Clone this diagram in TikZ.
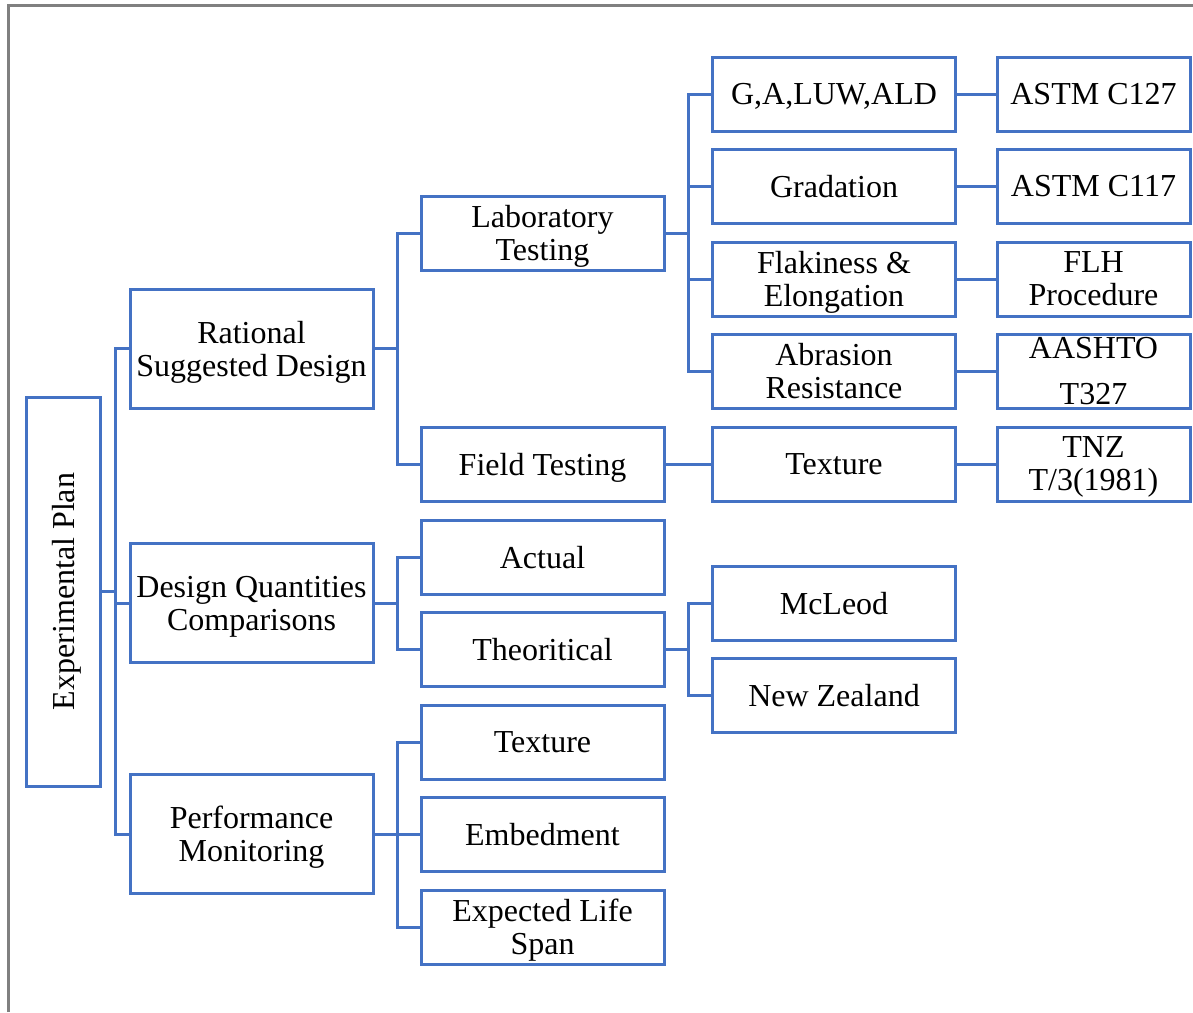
\documentclass[tikz,border=0pt]{standalone}
\usepackage{fontspec}
\setmainfont{Liberation Serif}
\definecolor{boxblue}{HTML}{4472C4}
\definecolor{framegray}{HTML}{808080}
\begin{document}
\begin{tikzpicture}[x=0.5pt,y=-0.5pt,
  box/.style={draw=boxblue,line width=1.5pt,inner sep=0pt,align=center,
    font=\fontsize{16}{16.5}\selectfont,text=black,text depth=0pt},
  lone/.style={box,minimum width=121.5pt,minimum height=59.5pt},
  ltwo/.style={box,minimum width=121.5pt,minimum height=37pt},
  lfour/.style={box,minimum width=96.5pt,minimum height=37pt},
  conn/.style={draw=boxblue,line width=1.5pt}]
\useasboundingbox (0,0) rectangle (1193,1012);
\draw[framegray,line width=1.5pt] (8,1012) -- (8,5) -- (1193,5);
% root
\node[box,minimum width=194.5pt,minimum height=37pt,rotate=90] (ep) at (63,591.5) {Experimental Plan};
% level 1
\node[lone] (rsd) at (251.5,348.5) {Rational\\Suggested Design};
\node[lone] (dqc) at (251.5,603) {Design Quantities\\Comparisons};
\node[lone] (pm) at (251.5,834) {Performance\\Monitoring};
% level 2
\node[ltwo] (lab) at (542.5,233) {Laboratory\\Testing};
\node[ltwo] (fld) at (542.5,464) {Field Testing};
\node[ltwo] (act) at (542.5,557) {Actual};
\node[ltwo] (the) at (542.5,649) {Theoritical};
\node[ltwo] (tex) at (542.5,742) {Texture};
\node[ltwo] (emb) at (542.5,834) {Embedment};
\node[ltwo] (els) at (542.5,927) {Expected Life\\Span};
% level 3
\node[ltwo] (gal) at (834,94) {G,A,LUW,ALD};
\node[ltwo] (gra) at (834,186) {Gradation};
\node[ltwo] (fla) at (834,279) {Flakiness \&\\Elongation};
\node[ltwo] (abr) at (834,371) {Abrasion\\Resistance};
\node[ltwo] (ftx) at (834,464) {Texture};
\node[ltwo] (mcl) at (834,603) {McLeod};
\node[ltwo] (nz) at (834,695) {New Zealand};
% level 4
\node[lfour] (c127) at (1093.5,94) {ASTM C127};
\node[lfour] (c117) at (1093.5,186) {ASTM C117};
\node[lfour] (flh) at (1093.5,279) {FLH\\Procedure};
\node[lfour] (aas) at (1093.5,371) {AASHTO\\[6.5pt]T327};
\node[lfour] (tnz) at (1093.5,464) {TNZ\\T/3(1981)};
% bus points
\coordinate (b0) at (115,591.5);
\coordinate (b1) at (397,348.5);
\coordinate (b2) at (397,603);
\coordinate (b3) at (397,834);
\coordinate (b4) at (688,233);
\coordinate (b5) at (688,649);
% connectors
\draw[conn] (ep.south) -- (b0);
\draw[conn] (rsd.west) -| (b0);
\draw[conn] (dqc.west) -| (b0);
\draw[conn] (pm.west) -| (b0);
\draw[conn] (rsd.east) -- (b1);
\draw[conn] (lab.west) -| (b1);
\draw[conn] (fld.west) -| (b1);
\draw[conn] (dqc.east) -- (b2);
\draw[conn] (act.west) -| (b2);
\draw[conn] (the.west) -| (b2);
\draw[conn] (pm.east) -- (b3);
\draw[conn] (tex.west) -| (b3);
\draw[conn] (emb.west) -- (b3);
\draw[conn] (els.west) -| (b3);
\draw[conn] (lab.east) -- (b4);
\draw[conn] (gal.west) -| (b4);
\draw[conn] (gra.west) -| (b4);
\draw[conn] (fla.west) -| (b4);
\draw[conn] (abr.west) -| (b4);
\draw[conn] (fld.east) -- (ftx.west);
\draw[conn] (the.east) -- (b5);
\draw[conn] (mcl.west) -| (b5);
\draw[conn] (nz.west) -| (b5);
\draw[conn] (gal.east) -- (c127.west);
\draw[conn] (gra.east) -- (c117.west);
\draw[conn] (fla.east) -- (flh.west);
\draw[conn] (abr.east) -- (aas.west);
\draw[conn] (ftx.east) -- (tnz.west);
\end{tikzpicture}
\end{document}
